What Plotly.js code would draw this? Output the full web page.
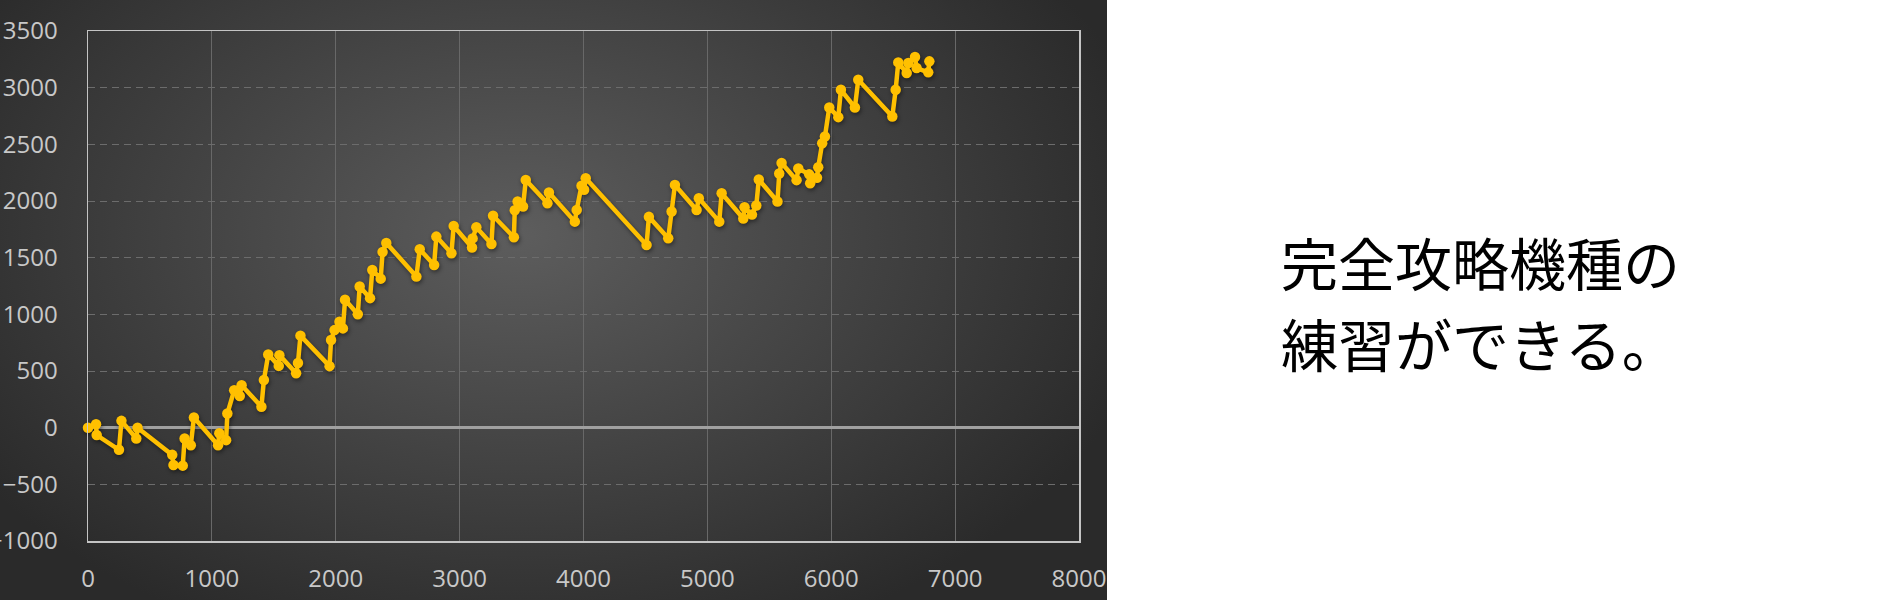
<!DOCTYPE html>
<html>
<head>
<meta charset="utf-8">
<script src="https://cdn.plot.ly/plotly-3.0.1.min.js"></script>
<style>
  html, body { margin: 0; padding: 0; background: #ffffff; }
  #bg {
    position: absolute; left: 0; top: 0; width: 1107px; height: 600px;
    background: radial-gradient(ellipse 650px 440px at 520px 235px, #5d5d5d 0%, #2a2a2a 100%);
  }
  #chart { position: absolute; left: 0; top: 0; width: 1900px; height: 600px; }
  #chart .scatterlayer { filter: drop-shadow(1px 2px 2px rgba(0,0,0,0.45)); }
</style>
</head>
<body>
<div id="bg"></div>
<div id="chart"></div>
<script>
// Game count (x) and balance (y)
const gameCounts = [
  0, 65, 70, 250, 270, 390, 400, 680, 690, 765,
  780, 830, 855, 1050, 1060, 1115, 1125, 1180, 1225, 1240,
  1400, 1420, 1455, 1540, 1545, 1680, 1695, 1715, 1950, 1962,
  1990, 2030, 2058, 2075, 2178, 2193, 2277, 2295, 2363, 2378,
  2408, 2651, 2678, 2794, 2812, 2934, 2952, 3100, 3105, 3135,
  3257, 3270, 3438, 3445, 3468, 3512, 3534, 3709, 3721, 3930,
  3945, 3984, 4005, 4018, 4509, 4528, 4684, 4711, 4738, 4913,
  4931, 5096, 5115, 5290, 5300, 5360, 5395, 5415, 5566, 5580,
  5599, 5720, 5734, 5822, 5830, 5885, 5895, 5927, 5949, 5984,
  6057, 6078, 6191, 6218, 6493, 6520, 6541, 6609, 6622, 6676,
  6689, 6783, 6792
];
const balance = [
  0, 30, -65, -195, 60, -95, 0, -240, -330, -335,
  -95, -155, 90, -155, -50, -110, 125, 330, 280, 375,
  185, 420, 645, 545, 640, 480, 570, 812, 543, 773,
  861, 935, 876, 1128, 1000, 1246, 1143, 1391, 1315, 1550,
  1630, 1333, 1574, 1436, 1686, 1539, 1780, 1590, 1670, 1768,
  1621, 1870, 1680, 1918, 1995, 1951, 2186, 1980, 2075, 1818,
  1921, 2135, 2100, 2201, 1612, 1860, 1671, 1907, 2142, 1921,
  2024, 1818, 2069, 1845, 1945, 1880, 1960, 2190, 1995, 2242,
  2336, 2184, 2287, 2235, 2157, 2205, 2298, 2510, 2569, 2825,
  2740, 2981, 2825, 3070, 2746, 2981, 3223, 3129, 3217, 3270,
  3173, 3135, 3232
];
const captionLines = ["完全攻略機種の", "練習ができる。"];

const lineColor = "#FFC000";
const tickFont = { family: "Open Sans, Noto Sans, sans-serif", size: 24, color: "#c8c8c8" };

const trace = {
  x: gameCounts,
  y: balance,
  type: "scatter",
  mode: "lines+markers",
  line: { color: lineColor, width: 4.5 },
  marker: { color: lineColor, size: 10.5 },
  cliponaxis: false,
  hoverinfo: "skip"
};

const layout = {
  width: 1900,
  height: 600,
  paper_bgcolor: "rgba(0,0,0,0)",
  plot_bgcolor: "rgba(0,0,0,0)",
  showlegend: false,
  margin: { l: 88, r: 821, t: 31, b: 59, pad: 0 },
  xaxis: {
    range: [0, 8000],
    dtick: 1000,
    tick0: 0,
    tickformat: "d",
    showgrid: true,
    gridcolor: "#686868",
    gridwidth: 1,
    zeroline: false,
    showline: true,
    mirror: true,
    linecolor: "#c4c4c4",
    linewidth: 1.5,
    ticks: "",
    ticklabelstandoff: 16,
    tickfont: tickFont,
    fixedrange: true
  },
  yaxis: {
    range: [-1000, 3500],
    dtick: 500,
    tick0: 0,
    tickformat: "d",
    showgrid: true,
    gridcolor: "#6c6c6c",
    gridwidth: 1,
    griddash: "7px,5px",
    zeroline: true,
    zerolinecolor: "#a0a0a0",
    zerolinewidth: 3,
    showline: true,
    mirror: true,
    linecolor: "#c4c4c4",
    linewidth: 1.5,
    ticks: "",
    ticklabelstandoff: 24,
    tickfont: tickFont,
    fixedrange: true
  },
  annotations: captionLines.map((t, i) => ({
    text: t,
    xref: "paper",
    yref: "paper",
    x: 1.2015,
    y: i === 0 ? 0.55 : 0.39,
    xanchor: "left",
    yanchor: "middle",
    showarrow: false,
    font: { family: "Noto Sans CJK JP, sans-serif", size: 57, color: "#000000" }
  }))
};

Plotly.newPlot("chart", [trace], layout, { displayModeBar: false, staticPlot: true });
</script>
</body>
</html>
